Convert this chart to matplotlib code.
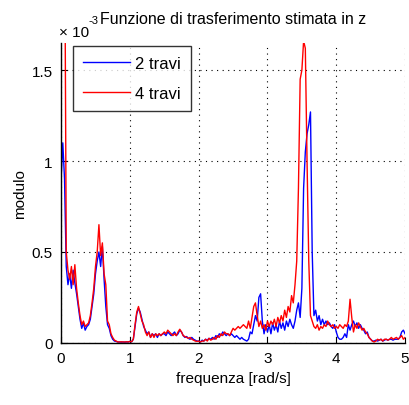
import numpy as np
import matplotlib
matplotlib.use('Agg')
import matplotlib.pyplot as plt

# frequency grid [rad/s], step 0.025
freq = np.linspace(0.0, 5.0, 201)

# |H(z)| estimates, units of 1e-3
modulo_2_travi = [
    0.90, 1.10, 0.90, 0.42, 0.32, 0.38, 0.30, 0.40, 0.33, 0.27,   # 0.000 - 0.225
    0.20, 0.13, 0.08, 0.11, 0.07, 0.09, 0.10, 0.13, 0.20, 0.27,   # 0.250 - 0.475
    0.38, 0.45, 0.50, 0.42, 0.53, 0.35, 0.20, 0.10, 0.08, 0.04,   # 0.500 - 0.725
    0.02, 0.01, 0.008, 0.005, 0.005, 0.004, 0.005, 0.004, 0.005, 0.005,  # 0.750 - 0.975
    0.008, 0.006, 0.02, 0.09, 0.16, 0.19, 0.17, 0.13, 0.09, 0.07,  # 1.000 - 1.225
    0.05, 0.06, 0.03, 0.05, 0.04, 0.05, 0.03, 0.05, 0.04, 0.05,   # 1.250 - 1.475
    0.05, 0.04, 0.06, 0.05, 0.04, 0.05, 0.06, 0.04, 0.05, 0.07,   # 1.500 - 1.725
    0.06, 0.04, 0.03, 0.035, 0.025, 0.02, 0.03, 0.02, 0.015, 0.01,  # 1.750 - 1.975
    0.01, 0.005, 0.015, 0.01, 0.02, 0.015, 0.025, 0.02, 0.03, 0.02,  # 2.000 - 2.225
    0.04, 0.03, 0.05, 0.04, 0.06, 0.05, 0.04, 0.05, 0.04, 0.05,   # 2.250 - 2.475
    0.04, 0.03, 0.04, 0.03, 0.02, 0.03, 0.02, 0.015, 0.01, 0.02,  # 2.500 - 2.725
    0.06, 0.05, 0.10, 0.15, 0.12, 0.25, 0.27, 0.12, 0.05, 0.10,   # 2.750 - 2.975
    0.06, 0.10, 0.05, 0.11, 0.07, 0.10, 0.06, 0.12, 0.08, 0.11,   # 3.000 - 3.225
    0.07, 0.12, 0.09, 0.13, 0.10, 0.08, 0.12, 0.18, 0.22, 0.14,   # 3.250 - 3.475
    0.30, 0.85, 1.05, 1.15, 1.20, 1.27, 0.50, 0.15, 0.18, 0.12,   # 3.500 - 3.725
    0.15, 0.10, 0.13, 0.10, 0.12, 0.10, 0.11, 0.09, 0.08, 0.10,   # 3.750 - 3.975
    0.06, 0.03, 0.02, 0.02, 0.03, 0.05, 0.03, 0.10, 0.07, 0.10,   # 4.000 - 4.225
    0.12, 0.09, 0.11, 0.08, 0.10, 0.08, 0.07, 0.05, 0.06, 0.03,   # 4.250 - 4.475
    0.02, 0.01, 0.01, 0.015, 0.01, 0.015, 0.02, 0.01, 0.015, 0.02,  # 4.500 - 4.725
    0.015, 0.02, 0.02, 0.015, 0.02, 0.02, 0.02, 0.03, 0.06, 0.07,  # 4.750 - 4.975
    0.05,
]

modulo_4_travi = [
    2.00, 3.00, 2.50, 0.50, 0.40, 0.35, 0.42, 0.32, 0.43, 0.30,   # 0.000 - 0.225
    0.22, 0.15, 0.10, 0.12, 0.09, 0.10, 0.11, 0.15, 0.22, 0.30,   # 0.250 - 0.475
    0.42, 0.50, 0.65, 0.48, 0.55, 0.38, 0.32, 0.12, 0.10, 0.05,   # 0.500 - 0.725
    0.03, 0.015, 0.01, 0.005, 0.005, 0.006, 0.005, 0.005, 0.006, 0.005,  # 0.750 - 0.975
    0.008, 0.006, 0.02, 0.10, 0.17, 0.20, 0.16, 0.12, 0.10, 0.06,  # 1.000 - 1.225
    0.04, 0.06, 0.03, 0.05, 0.03, 0.05, 0.04, 0.05, 0.04, 0.05,   # 1.250 - 1.475
    0.06, 0.05, 0.07, 0.06, 0.05, 0.04, 0.05, 0.04, 0.06, 0.075,  # 1.500 - 1.725
    0.06, 0.04, 0.035, 0.03, 0.025, 0.03, 0.02, 0.015, 0.01, 0.008,  # 1.750 - 1.975
    0.01, 0.005, 0.01, 0.01, 0.02, 0.01, 0.025, 0.015, 0.02, 0.03,  # 2.000 - 2.225
    0.02, 0.04, 0.03, 0.05, 0.04, 0.06, 0.05, 0.05, 0.04, 0.06,   # 2.250 - 2.475
    0.08, 0.07, 0.08, 0.09, 0.08, 0.09, 0.10, 0.09, 0.08, 0.12,   # 2.500 - 2.725
    0.08, 0.14, 0.20, 0.22, 0.15, 0.09, 0.12, 0.08, 0.10, 0.07,   # 2.750 - 2.975
    0.12, 0.09, 0.12, 0.10, 0.13, 0.09, 0.14, 0.11, 0.15, 0.12,   # 3.000 - 3.225
    0.18, 0.14, 0.20, 0.17, 0.26, 0.22, 0.32, 0.45, 0.85, 1.45,   # 3.250 - 3.475
    1.50, 1.66, 1.62, 1.00, 0.45, 0.15, 0.12, 0.09, 0.08, 0.10,   # 3.500 - 3.725
    0.07, 0.09, 0.08, 0.10, 0.09, 0.12, 0.10, 0.09, 0.10, 0.08,   # 3.750 - 3.975
    0.09, 0.08, 0.10, 0.09, 0.08, 0.10, 0.09, 0.12, 0.24, 0.14,   # 4.000 - 4.225
    0.06, 0.10, 0.08, 0.11, 0.09, 0.07, 0.08, 0.06, 0.05, 0.03,   # 4.250 - 4.475
    0.02, 0.01, 0.005, 0.01, 0.02, 0.015, 0.02, 0.01, 0.02, 0.02,  # 4.500 - 4.725
    0.015, 0.02, 0.03, 0.02, 0.025, 0.03, 0.02, 0.03, 0.04, 0.02,  # 4.750 - 4.975
    0.03,
]

plt.rcParams['font.family'] = ['Liberation Sans', 'DejaVu Sans']

fig = plt.figure(figsize=(4.10, 4.06), dpi=100)
ax = fig.add_axes([0.149, 0.153, 0.839, 0.739])

ax.plot(freq, modulo_2_travi, color='#0000ff', lw=1.0, label='2 travi')
ax.plot(freq, modulo_4_travi, color='#ff0000', lw=1.0, label='4 travi')

ax.set_xlim(0, 5)
ax.set_ylim(0, 1.65)
ax.set_xticks([0, 1, 2, 3, 4, 5])
ax.set_xticklabels(['0', '1', '2', '3', '4', '5'])
ax.set_yticks([0, 0.5, 1.0, 1.5])
ax.set_yticklabels(['0', '0.5', '1', '1.5'])
ax.tick_params(direction='in', length=4, labelsize=11, colors='black', pad=6)

ax.grid(True, linestyle=(0, (1, 4)), color='black', linewidth=0.8)
for side in ['top', 'right']:
    ax.spines[side].set_visible(False)
for side in ['left', 'bottom']:
    ax.spines[side].set_linewidth(1.0)

ax.set_xlabel('frequenza [rad/s]', fontsize=11, labelpad=4)
ax.set_ylabel('modulo', fontsize=11, labelpad=3)
ax.set_title('Funzione di trasferimento stimata in z', fontsize=11.5, pad=14)

# MATLAB-style exponent label above the y axis
fig.text(0.145, 0.902, '× 10', fontsize=11, ha='left', va='bottom')
fig.text(0.215, 0.935, '-3', fontsize=8, ha='left', va='bottom')

leg = ax.legend(loc='upper left', bbox_to_anchor=(0.035, 0.99), borderaxespad=0,
                fontsize=12, frameon=True, fancybox=False,
                handlelength=2.8, borderpad=0.6, labelspacing=0.9,
                handletextpad=0.3)
leg.get_frame().set_edgecolor('black')
leg.get_frame().set_linewidth(1.0)

fig.savefig('out.png', dpi=100)
